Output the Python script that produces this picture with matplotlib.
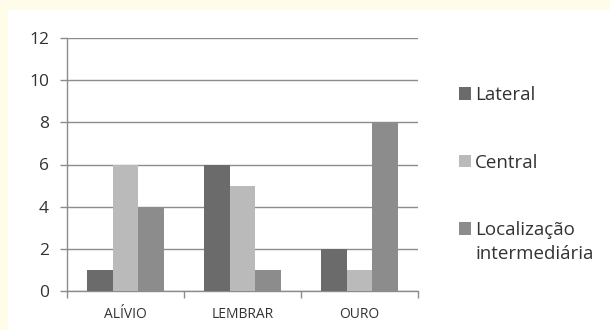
import matplotlib
matplotlib.use("Agg")
import matplotlib.pyplot as plt
from matplotlib.patches import Rectangle
import numpy as np

categories = ["ALÍVIO", "LEMBRAR", "OURO"]
series_names = ["Lateral", "Central", "Localização"]
series_extra = "intermediária"
lateral = [1, 6, 2]
central = [6, 5, 1]
intermediaria = [4, 1, 8]
colors = ["#6b6b6b", "#bababa", "#8c8c8c"]

plt.rcParams["font.family"] = ["Open Sans", "DejaVu Sans"]

fig = plt.figure(figsize=(6.1, 3.3), dpi=100)
fig.patch.set_facecolor("#fffdea")
# white chart area inside the yellow border
fig.patches.append(Rectangle((8 / 610, 0), 1, 1 - 10 / 330, transform=fig.transFigure,
                             facecolor="white", edgecolor="none", zorder=-5))

ax = fig.add_axes([67 / 610, 1 - 290.7 / 330, 351 / 610, (290.7 - 38.3) / 330])
ax.set_facecolor("none")
ax.set_zorder(2)

x = np.arange(len(categories))
w = 0.222
for i, (vals, name) in enumerate(zip([lateral, central, intermediaria], series_names)):
    ax.bar(x + (i - 1) * w, vals, width=w, color=colors[i], label=name, zorder=3)

ax.set_xlim(-0.5, 2.5)
ax.set_ylim(0, 12)
ax.set_yticks(range(0, 13, 2))
ax.yaxis.grid(True, color="#8c8c8c", linewidth=1, zorder=0)

ax.set_xticks([-0.5, 0.5, 1.5, 2.5])
ax.set_xticklabels([])
ax.set_xticks(x, minor=True)
ax.set_xticklabels(categories, minor=True, fontsize=10, color="#333333")
ax.tick_params(axis="x", which="minor", length=0, pad=12)
ax.tick_params(axis="x", which="major", length=5, color="#8c8c8c", width=1)
ax.tick_params(axis="y", length=5, color="#8c8c8c", width=1, labelsize=12.5,
               labelcolor="#333333", pad=8)

for s in ["top", "right"]:
    ax.spines[s].set_visible(False)
for s in ["left", "bottom"]:
    ax.spines[s].set_color("#8c8c8c")
    ax.spines[s].set_linewidth(1)

leg = fig.legend(loc="upper left", bbox_to_anchor=(459 / 610, 1 - 86 / 330), frameon=False,
                 fontsize=13.5, handlelength=0.66, handleheight=0.66, handletextpad=0.2,
                 labelspacing=2.65, labelcolor="#333333", borderpad=0, borderaxespad=0)

# second line of the last legend entry, placed under "Localização"
fig.canvas.draw()
bb = leg.get_texts()[2].get_window_extent()
fig.text(bb.x0 / 610, (bb.y0 + bb.y1) / 2 / 330 - 24 / 330, series_extra,
         va="center", ha="left", fontsize=13.5, color="#333333")

fig.savefig("out.png", dpi=100, facecolor=fig.get_facecolor())
